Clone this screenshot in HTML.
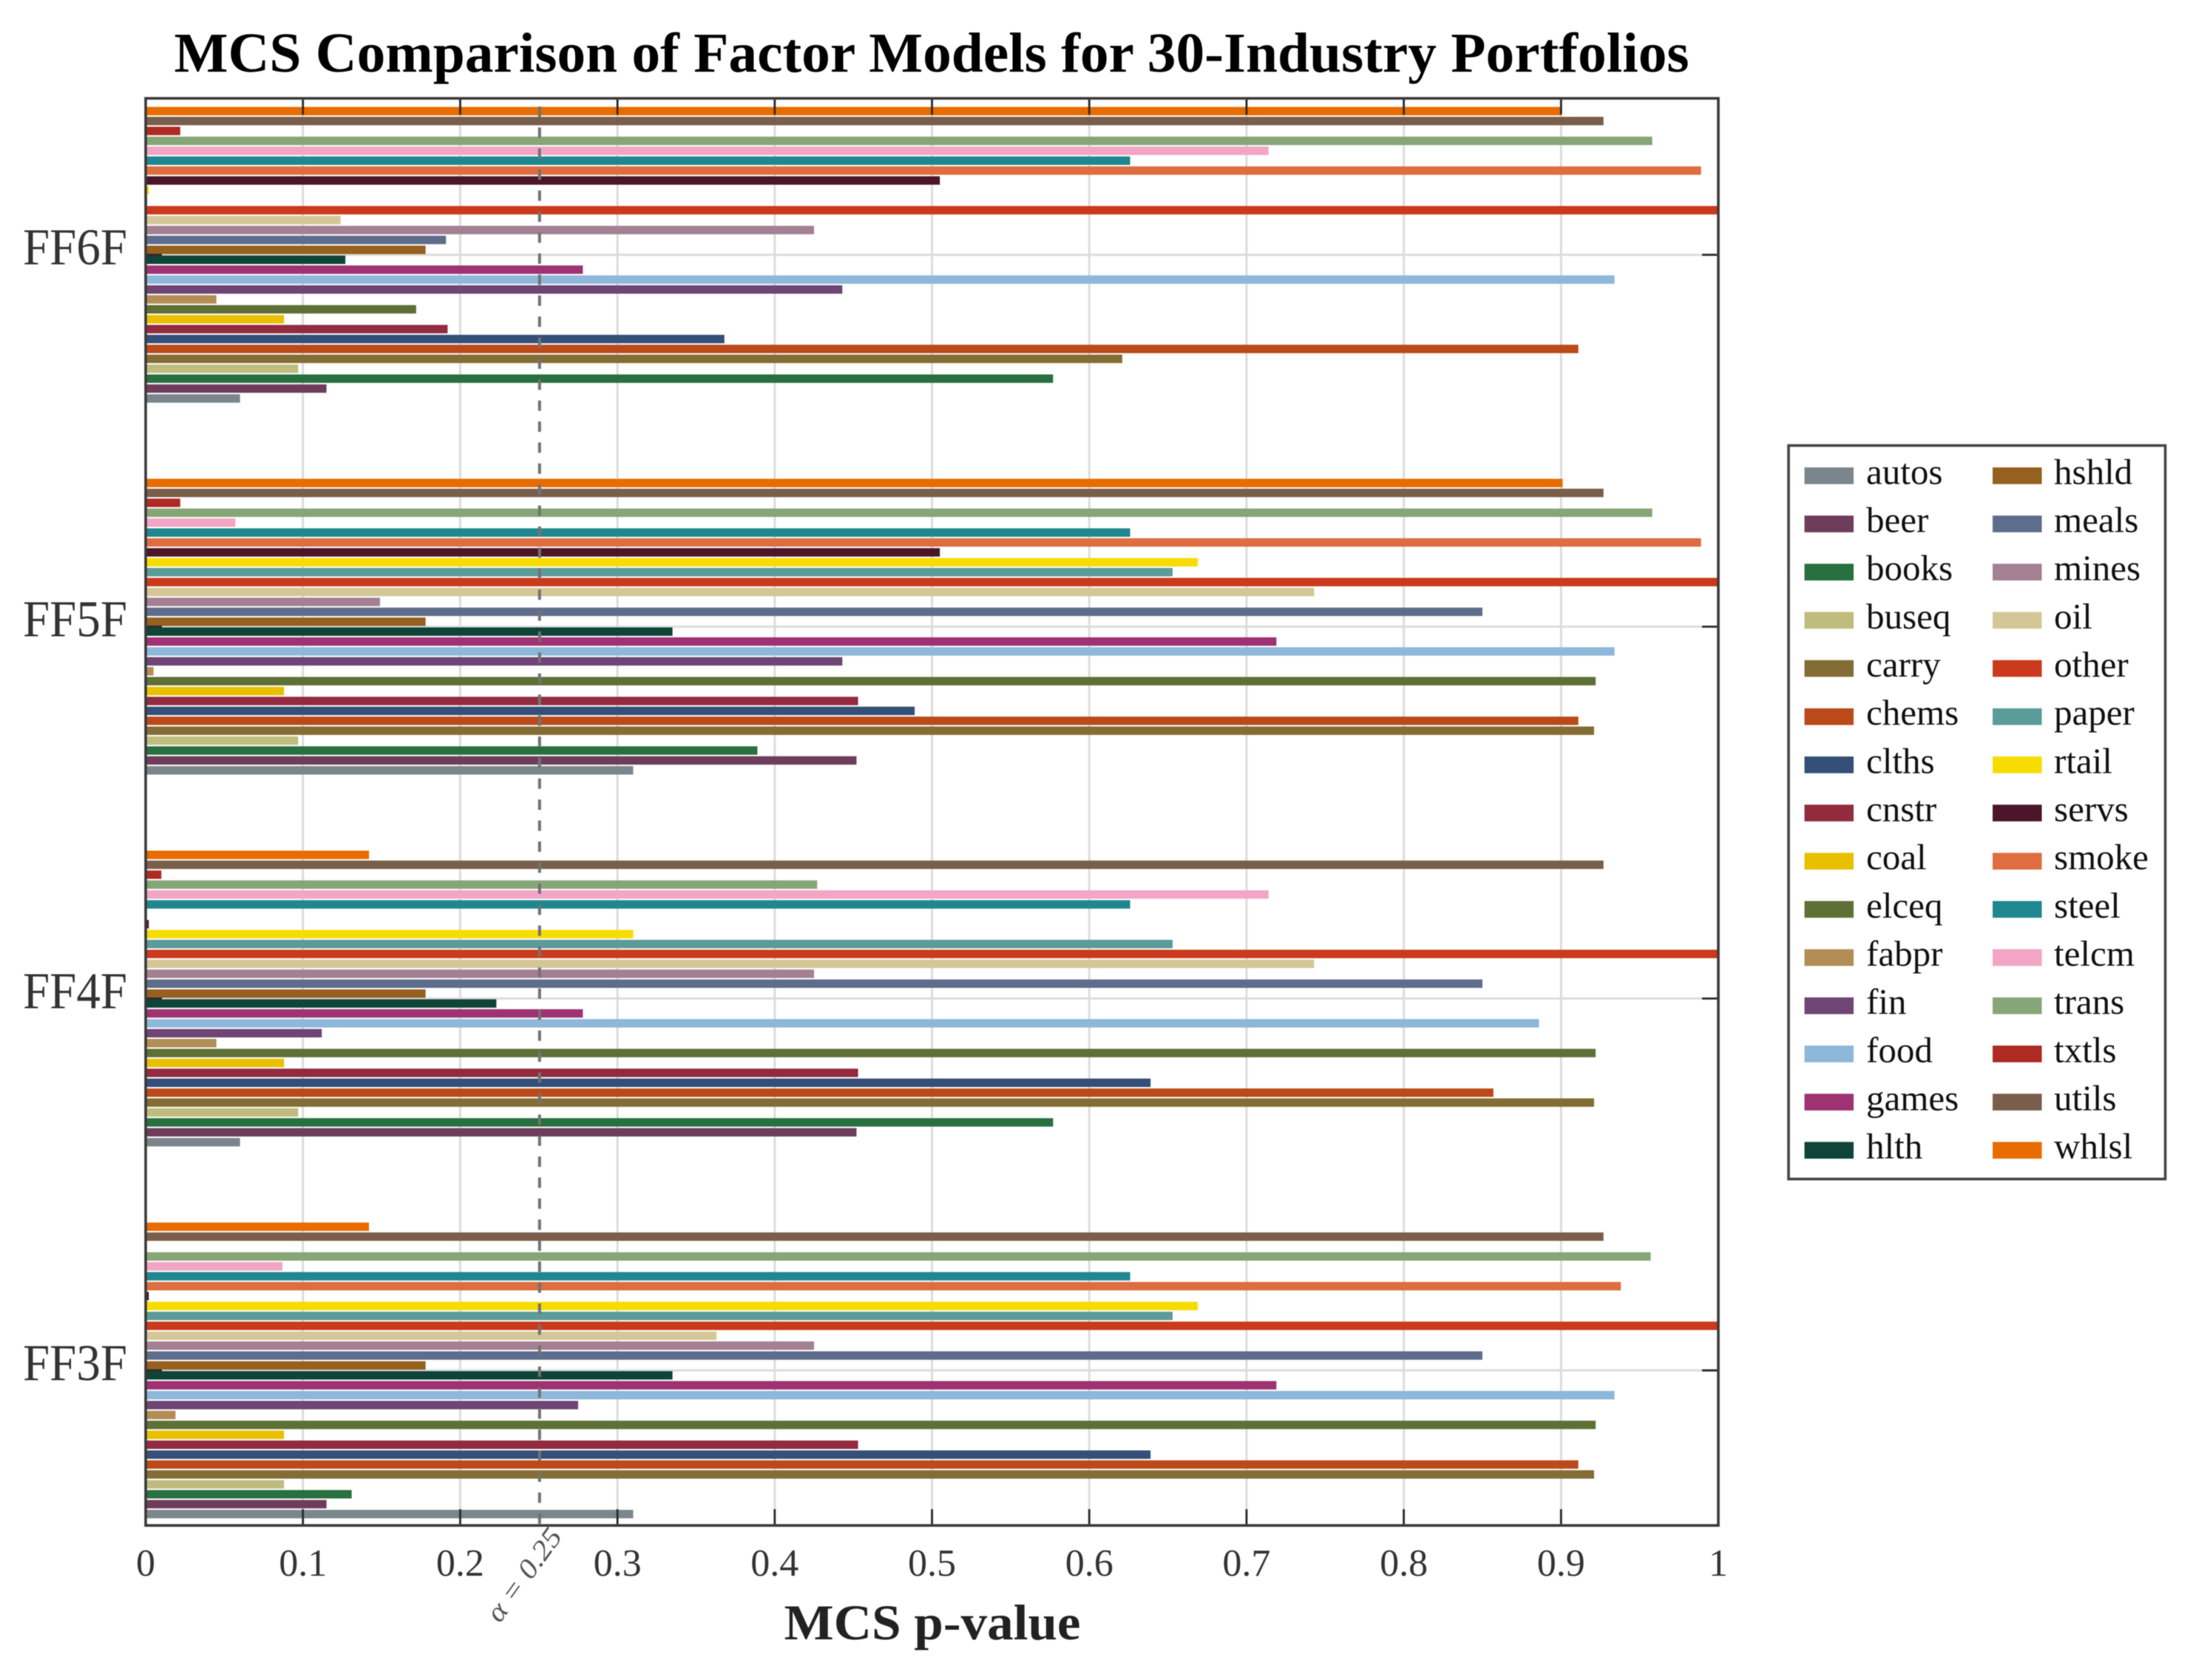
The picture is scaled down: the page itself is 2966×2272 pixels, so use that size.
<!DOCTYPE html>
<html lang="en">
<head>
<meta charset="utf-8">
<title>MCS Comparison of Factor Models</title>
<style>
  html, body { margin: 0; padding: 0; background: #ffffff; }
  svg { display: block; filter: blur(0.6px); }
  text { font-family: "Liberation Serif", "DejaVu Serif", serif; }
</style>
</head>
<body>
<svg id="chart" xmlns="http://www.w3.org/2000/svg" width="2966" height="2272" viewBox="0 0 2966 2272">
  <rect x="0" y="0" width="2966" height="2272" fill="#ffffff"/>
  <text x="1260" y="97" text-anchor="middle" font-size="76" font-weight="bold" fill="#000000" textLength="2049" lengthAdjust="spacingAndGlyphs">MCS Comparison of Factor Models for 30-Industry Portfolios</text>
  <g id="grid"></g>
  <g id="bars"></g>
  <g id="threshold"></g>
  <g id="axes"></g>
  <text x="1261" y="2217" text-anchor="middle" font-size="68" font-weight="bold" fill="#222222" textLength="401" lengthAdjust="spacingAndGlyphs">MCS p-value</text>
  <g id="legend"></g>
</svg>
<script>
const industries = ["autos","beer","books","buseq","carry","chems","clths","cnstr","coal","elceq","fabpr","fin","food","games","hlth","hshld","meals","mines","oil","other","paper","rtail","servs","smoke","steel","telcm","trans","txtls","utils","whlsl"];
const models = ["FF3F","FF4F","FF5F","FF6F"];
const xTicks = [0,0.1,0.2,0.3,0.4,0.5,0.6,0.7,0.8,0.9,1];
const alphaLevel = 0.25;

const valuesFF3F = [0.31,0.115,0.131,0.088,0.921,0.911,0.639,0.453,0.088,0.922,0.019,0.275,0.934,0.719,0.335,0.178,0.85,0.425,0.363,1,0.653,0.669,0.002,0.938,0.626,0.087,0.957,0,0.927,0.142];
const valuesFF4F = [0.06,0.452,0.577,0.097,0.921,0.857,0.639,0.453,0.088,0.922,0.045,0.112,0.886,0.278,0.223,0.178,0.85,0.425,0.743,1,0.653,0.31,0.002,0,0.626,0.714,0.427,0.01,0.927,0.142];
const valuesFF5F = [0.31,0.452,0.389,0.097,0.921,0.911,0.489,0.453,0.088,0.922,0.005,0.443,0.934,0.719,0.335,0.178,0.85,0.149,0.743,1,0.653,0.669,0.505,0.989,0.626,0.057,0.958,0.022,0.927,0.901];
const valuesFF6F = [0.06,0.115,0.577,0.097,0.621,0.911,0.368,0.192,0.088,0.172,0.045,0.443,0.934,0.278,0.127,0.178,0.191,0.425,0.124,1,0.001,0.002,0.505,0.989,0.626,0.714,0.958,0.022,0.927,0.9];
const seriesByModel = [valuesFF3F, valuesFF4F, valuesFF5F, valuesFF6F];

const palette = ["#7a868c","#6f3d5c","#28703f","#bfbc7e","#846d35","#bb4a1a","#344f78","#922b3e","#e8c000","#5f7036","#b28d55","#6e4575","#8db8da","#9f3272","#0f4538","#96601f","#5f6d8c","#a38092","#d4c797","#cb3a1c","#5b9c99","#f6dc00","#4b1629","#de6d40","#20878e","#f2a5c5","#86a678","#af2a22","#795f4b","#e86c00"];

const NS = "http://www.w3.org/2000/svg";
const plot = { left: 197, right: 2324, top: 133, bottom: 2063 };
const xScale = v => plot.left + (plot.right - plot.left) * v;
const yScale = i => 1853.3 - 502.9 * i;
const barPitch = 13.4;
const barHeight = 11.4;
const barY = (i, j) => yScale(i) - (j - 14.5) * barPitch;

function make(tag, attrs, parent, text) {
  const el = document.createElementNS(NS, tag);
  for (const k in attrs) el.setAttribute(k, attrs[k]);
  if (text !== undefined) el.textContent = text;
  parent.appendChild(el);
  return el;
}

const gGrid = document.getElementById("grid");
const gBars = document.getElementById("bars");
const gThreshold = document.getElementById("threshold");
const gAxes = document.getElementById("axes");
const gLegend = document.getElementById("legend");

// gridlines
xTicks.forEach(t => {
  if (t === 0 || t === 1) return;
  const el = make("line", { x1: xScale(t), x2: xScale(t), y1: plot.top, y2: plot.bottom, stroke: "#dcdcdc", "stroke-width": 3 }, gGrid);
  
  
});
models.forEach((m, i) => {
  const el = make("line", { x1: plot.left, x2: plot.right, y1: yScale(i), y2: yScale(i), stroke: "#dcdcdc", "stroke-width": 3 }, gGrid);
  
  
});

// bars
models.forEach((m, i) => {
  seriesByModel[i].forEach((v, j) => {
    const el = make("rect", { x: plot.left, y: barY(i, j) - barHeight / 2, width: xScale(v) - plot.left, height: barHeight, fill: palette[j] }, gBars);
    
    
  });
});

// alpha threshold
const alphaLine = make("line", { x1: xScale(alphaLevel) + 1, x2: xScale(alphaLevel) + 1, y1: 144, y2: plot.bottom, stroke: "#727272", "stroke-width": 4, "stroke-dasharray": "14 14.4" }, gThreshold);


const ax = xScale(alphaLevel) + 33;
const ay = 2078;
const alphaLabel = make("text", { x: 0, y: 0, "text-anchor": "end", "font-size": 38, "font-style": "italic", fill: "#555555", transform: "translate(" + ax + " " + ay + ") rotate(-54)", textLength: 146, lengthAdjust: "spacingAndGlyphs" }, gThreshold, "\u03B1 = " + alphaLevel);



// axis ticks and labels
xTicks.forEach(t => {
  if (t !== 0 && t !== 1) {
    const top = make("line", { x1: xScale(t), x2: xScale(t), y1: plot.top, y2: plot.top + 22, stroke: "#2a2a2a", "stroke-width": 2.8 }, gAxes);
    
    
    const bot = make("line", { x1: xScale(t), x2: xScale(t), y1: plot.bottom - 22, y2: plot.bottom, stroke: "#2a2a2a", "stroke-width": 2.8 }, gAxes);
    
    
  }
  const label = make("text", { x: xScale(t), y: 2131, "text-anchor": "middle", "font-size": 52, fill: "#333333" }, gAxes, String(t));
  
  
});
models.forEach((m, i) => {
  const l = make("line", { x1: plot.left, x2: plot.left + 22, y1: yScale(i), y2: yScale(i), stroke: "#2a2a2a", "stroke-width": 2.8 }, gAxes);
  
  
  const r = make("line", { x1: plot.right - 22, x2: plot.right, y1: yScale(i), y2: yScale(i), stroke: "#2a2a2a", "stroke-width": 2.8 }, gAxes);
  
  
  const label = make("text", { x: 31, y: yScale(i) + 13, "font-size": 70, fill: "#333333", textLength: 141, lengthAdjust: "spacingAndGlyphs" }, gAxes, m);
  
  
});
const frame = make("rect", { x: plot.left, y: plot.top, width: plot.right - plot.left, height: plot.bottom - plot.top, fill: "none", stroke: "#3a3a3a", "stroke-width": 3.6 }, gAxes);



// legend
const legendBox = make("rect", { x: 2419, y: 602.5, width: 509.5, height: 992, fill: "#ffffff", stroke: "#444444", "stroke-width": 3.6 }, gLegend);


industries.forEach((name, j) => {
  const col = j < 15 ? 0 : 1;
  const row = j % 15;
  const cy = 643.4 + row * 65.16;
  const sx = col === 0 ? 2440.5 : 2695;
  const tx = col === 0 ? 2524 : 2778;
  const swatch = make("rect", { x: sx, y: cy - 11.3, width: 66.5, height: 22.6, fill: palette[j] }, gLegend);
  
  
  const label = make("text", { x: tx, y: cy + 11, "font-size": 49, fill: "#111111" }, gLegend, name);
  
  
});
</script>
</body>
</html>
